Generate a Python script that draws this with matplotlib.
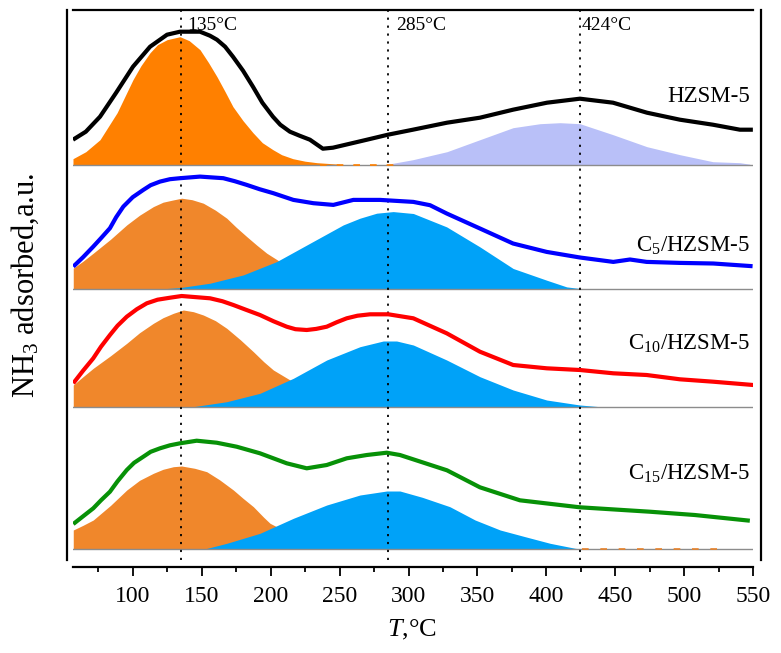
import matplotlib
matplotlib.use('Agg')
import matplotlib.pyplot as plt
from matplotlib.ticker import MultipleLocator

plt.rcParams['font.family'] = ['Liberation Serif', 'DejaVu Serif']
plt.rcParams['mathtext.fontset'] = 'custom'
plt.rcParams['mathtext.rm'] = 'Liberation Serif'
plt.rcParams['mathtext.it'] = 'Liberation Serif:italic'

# ---- data (T in degC, signal in a.u. above each baseline) ----
samples = ['HZSM-5', 'C$_{5}$/HZSM-5', 'C$_{10}$/HZSM-5', 'C$_{15}$/HZSM-5']
offsets = [395.3, 270.8, 153.3, 10.7]
peak_temps = [135, 285, 424]
line_colors = ['#000000', '#0000ff', '#ff0000', '#079107']

# HZSM-5
t_hz = [56.7, 66, 76.3, 88, 100.2, 112.6, 124.9, 134.3, 148.8, 156, 161.1, 167, 172.7,
        180, 187.2, 194, 201.7, 207, 214, 221, 228.5, 237.9, 245.2, 269.9, 285.1, 303.2,
        327.9, 351.8, 375.8, 400.4, 424.3, 448.3, 472.9, 496.8, 520.7, 540.3, 549.7]
s_hz = [25, 33, 48, 72, 98, 118, 130, 133, 133, 129, 125, 118, 108, 94, 78, 62, 48, 40,
        33, 29, 25, 16, 17, 25, 30, 35, 42, 47, 55, 62, 66, 62, 52, 45, 40, 35, 35]
t_hz_low = [56.7, 66, 76.3, 88.7, 100.2, 106, 112.6, 118, 124.9, 134.3, 141, 148.8, 155,
            161.1, 167, 172.7, 180, 187.2, 194, 201.7, 208, 216.2, 225, 233.6, 250]
s_hz_low = [6, 13, 25, 52, 85, 99, 112, 120, 125, 128, 124, 115, 102, 88, 73, 58, 44,
            32, 22, 15, 10, 6, 3.5, 2, 0.5]
t_hz_high = [283, 303.2, 327.9, 351.8, 375.8, 395.4, 409.9, 424.3, 448.3, 472.9,
             496.8, 520.7, 540.3, 547.5]
s_hz_high = [0, 5, 13, 25, 37, 41, 42, 41, 30, 18, 10, 3, 2, 0.5]

# C5/HZSM-5
t_c5 = [56.9, 64, 71.4, 77, 83.5, 88, 93.2, 100, 107.7, 113, 119.8, 127, 134.3, 148.8,
        165.7, 174, 182.7, 192, 202, 216.5, 231, 245.5, 260, 279.3, 303.5, 315.6, 327.7,
        351.8, 375.8, 400.2, 424.3, 448.5, 460.6, 472.7, 496.8, 521, 549.5]
s_c5 = [22.6, 32, 42.6, 51, 61, 72, 82.6, 92, 99.3, 104, 107.6, 110, 111, 112.6, 111,
        108, 104.3, 100, 96, 89.3, 86, 84.3, 89.3, 89.3, 87.3, 84, 75.7, 60.7, 45.7,
        37.3, 31.7, 27.3, 29.7, 27.3, 26.3, 25.7, 23]
t_c5_low = [56.9, 64, 71.4, 84, 95.7, 105, 115, 122, 129.5, 135.5, 143, 151.2, 160,
            168.2, 175, 182.7, 190, 197.2, 206.8, 221.3, 243, 264.8]
s_c5_low = [21, 28, 36, 50, 64.3, 74, 82.6, 87, 89.3, 91, 89.5, 86, 79, 71, 62, 52.6,
            44, 36, 27.6, 15, 5, 0]
t_c5_high = [117.6, 134.3, 156.1, 180.2, 204.4, 228.6, 252.7, 264.8, 276.9, 288.9,
             303.5, 327.7, 351.8, 375.9, 400.2, 414.7, 424.3, 428]
s_c5_high = [0, 1.6, 6, 14.3, 27.6, 46, 64.3, 71, 76, 77.6, 75.7, 62.3, 42.3, 20.7, 9,
             2.3, 0.7, 0]

# C10/HZSM-5
t_c10 = [56.9, 64, 71.4, 77, 83.5, 89, 95.7, 103, 110.2, 118, 127.1, 135.5, 156.1, 165,
         173, 182, 192.3, 202, 211.7, 218, 226.2, 233, 240.7, 248, 255.2, 263, 272.1,
         285.4, 303.5, 327.7, 351.8, 375.9, 400.2, 424.3, 448.5, 472.7, 496.8, 521, 550]
s_c10 = [23.4, 36, 48.4, 60, 71.7, 81, 90, 97.5, 103.4, 107, 109, 110.7, 108.4, 105.5,
         101.7, 97, 91.7, 85.5, 80, 77.5, 76.7, 77.8, 80, 84.5, 88.4, 91, 92.4, 92.4,
         88.4, 73.4, 55, 41.7, 38.4, 36.7, 33.4, 31.7, 27.4, 25, 21.7]
t_c10_low = [56.9, 64, 71.4, 84, 95.7, 105, 115, 122, 129.5, 136.7, 144, 151.2, 160,
             168.2, 178, 187.5, 195, 202, 214.1, 228.6, 250.3, 272.1]
s_c10_low = [21.7, 30, 38.4, 51, 63.4, 74, 83.4, 89, 93.4, 96.7, 95, 91.7, 86, 78.4, 67,
             55, 45, 36.7, 26.7, 14, 4, 0]
t_c10_high = [143.9, 168.2, 192.3, 216.5, 240.7, 264.8, 281.7, 291.4, 303.5, 327.7,
              351.8, 375.9, 400.2, 424.3, 438.8]
s_c10_high = [0, 5, 13.4, 28.4, 46.7, 60, 65.7, 65.7, 61.7, 46.7, 30, 16.7, 6.7, 1.7, 0]

# C15/HZSM-5
t_c15 = [56.9, 64, 71.4, 77, 83.5, 89, 95.7, 101, 107.7, 113, 119.8, 127, 134.3, 146.4,
         160.9, 175.4, 192.3, 211.7, 226.2, 240.7, 255.2, 269.7, 284.2, 293.8, 327.9,
         351.8, 380.8, 424.3, 475, 507.6, 547.5]
s_c15 = [25.3, 33, 41, 49, 57.6, 68, 79.3, 86.5, 92.6, 97.5, 101, 104, 106, 108.6, 106.6,
         102.6, 96, 86, 81, 84.3, 91, 94.3, 96.6, 94.3, 79, 62, 49, 42, 37.6, 34.3, 28.6]
t_c15_low = [56.9, 64, 71.4, 84, 95.7, 105, 115, 122, 129.5, 135.5, 145, 153.7, 163,
             173, 180, 187.5, 195, 199.6, 204.4, 221.3, 243, 264.8]
s_c15_low = [19.3, 24, 29.3, 44, 59.3, 69, 76, 80, 82.6, 83.3, 81, 77.6, 69.5, 59.3, 51,
             42.6, 32, 26, 22.6, 8, 2, 0]
t_c15_high = [151.2, 168.2, 192.3, 216.5, 240.7, 264.8, 284.2, 293.8, 310, 330, 348.3,
              366.5, 384.6, 402.7, 420.9, 428]
s_c15_high = [0, 6, 16, 31, 44.3, 54.3, 58.3, 58.3, 52, 42.6, 29.3, 19.3, 12.6, 6, 1, 0]

curves = [(t_hz, s_hz), (t_c5, s_c5), (t_c10, s_c10), (t_c15, s_c15)]
low_peaks = [(t_hz_low, s_hz_low), (t_c5_low, s_c5_low), (t_c10_low, s_c10_low),
             (t_c15_low, s_c15_low)]
high_peaks = [(t_hz_high, s_hz_high), (t_c5_high, s_c5_high),
              (t_c10_high, s_c10_high), (t_c15_high, s_c15_high)]
low_colors = ['#ff8000', '#f0872b', '#f0872b', '#f0872b']
high_colors = ['#b9c0f8', '#00a2f8', '#00a2f8', '#00a2f8']
label_y = [458.3, 308.3, 210, 80]

fig = plt.figure(figsize=(7.81, 6.53), dpi=100)
ax = fig.add_axes([0.0931, 0.1424, 0.8714, 0.8423])

for i in range(4):
    off = offsets[i]
    tl, sl = low_peaks[i]
    th, sh = high_peaks[i]
    ax.fill_between(tl, off, [off + v for v in sl], color=low_colors[i], lw=0, zorder=1)
    ax.fill_between(th, off, [off + v for v in sh], color=high_colors[i], lw=0, zorder=2)
    ax.axhline(off, color='#8c8c8c', lw=1.0, zorder=3)
    t, s = curves[i]
    ax.plot(t, [off + v for v in s], color=line_colors[i], lw=3.0, zorder=5,
            solid_capstyle='butt', solid_joinstyle='round')
    ax.text(548, label_y[i], samples[i], ha='right', va='baseline', fontsize=16.5,
            zorder=6)

# little orange residue dashes along two baselines
ax.plot([236, 292], [offsets[0]] * 2, color='#ff8000', lw=1.2, ls=(0, (4, 6)), zorder=3)
ax.plot([426, 532], [offsets[3]] * 2, color='#e8822a', lw=1.2, ls=(0, (4, 7)), zorder=3)

for t0, dx in zip(peak_temps, [4.5, 6, 1.3]):
    ax.axvline(t0, color='k', lw=1.3, ls=(0, (1.2, 3.2)), zorder=4)
    ax.text(t0 + dx, 530, f'{t0}°C', ha='left', va='baseline', fontsize=14, zorder=6)

ax.set_xlim(56.5, 550)
ax.set_ylim(0, 550)
ax.set_yticks([])
ax.spines['left'].set_visible(False)
ax.spines['right'].set_visible(False)
ax.spines['top'].set_linewidth(1.6)
ax.spines['bottom'].set_linewidth(1.6)
ax.spines['bottom'].set_position(('outward', 5))
ax.xaxis.set_major_locator(MultipleLocator(50))
ax.xaxis.set_minor_locator(MultipleLocator(25))
ax.tick_params(axis='x', which='major', direction='out', length=6.5, width=1.3,
               labelsize=17, pad=7)
ax.tick_params(axis='x', which='minor', direction='out', length=3.6, width=1.3)

# outer frame sides
for xa in [-0.0088, 1.0113]:
    ax.plot([xa, xa], [0, 1], transform=ax.transAxes, clip_on=False, color='k', lw=1.6)

ax.set_xlabel('$T$,°C', fontsize=19)
ax.xaxis.set_label_coords(0.4985, -0.127)
ax.xaxis.label.set_va('center')
ax.set_ylabel('NH$_3$ adsorbed,a.u.', fontsize=22)
ax.yaxis.set_label_coords(-0.070, 0.50)
ax.yaxis.label.set_va('center')

fig.savefig('out.png', dpi=100)
